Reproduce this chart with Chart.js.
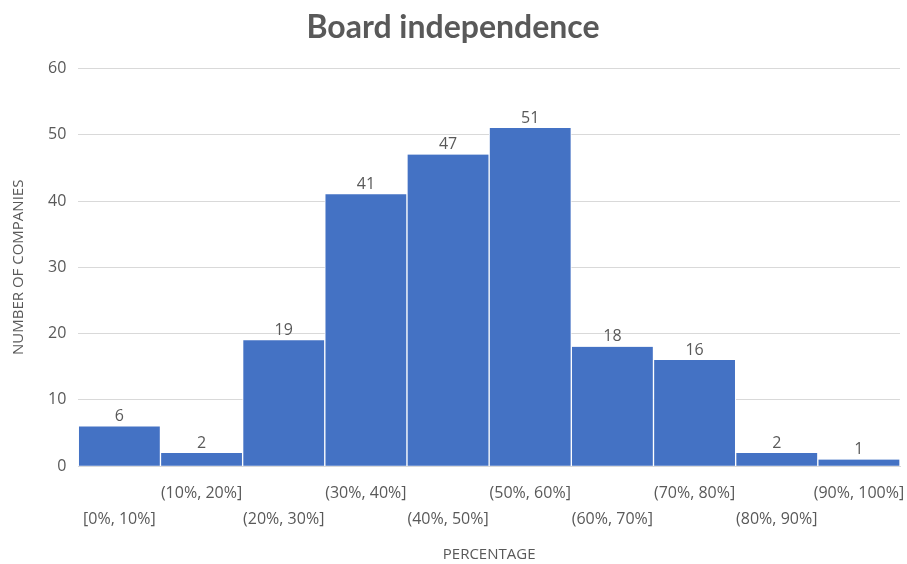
<!DOCTYPE html>
<html>
<head>
<meta charset="utf-8">
<script src="https://cdn.jsdelivr.net/npm/chart.js@4"></script>
<style>
  html, body { margin: 0; padding: 0; background: #fff; }
  #wrap { width: 907px; height: 564px; }
</style>
</head>
<body>
<div id="wrap"><canvas id="canvas"></canvas></div>
<script>
const bins = ["[0%, 10%]", "(10%, 20%]", "(20%, 30%]", "(30%, 40%]", "(40%, 50%]",
  "(50%, 60%]", "(60%, 70%]", "(70%, 80%]", "(80%, 90%]", "(90%, 100%]"]
const companies = [6, 2, 19, 41, 47, 51, 18, 16, 2, 1]
const yTicks = [0, 10, 20, 30, 40, 50, 60]

const grey = "#595959"
const font = "'Open Sans', 'Noto Sans', sans-serif"

// draws the count above each bar
const barValues = {
  id: "barValues",
  afterDatasetsDraw(chart) {
    const ctx = chart.ctx
    const meta = chart.getDatasetMeta(0)
    ctx.save()
    ctx.fillStyle = grey
    ctx.font = "16px " + font
    ctx.textAlign = "center"
    ctx.textBaseline = "bottom"
    meta.data.forEach((bar, i) => {
      ctx.fillText(companies[i], bar.x, bar.y - 2)
    })
    ctx.restore()
  }
}

new Chart(document.getElementById("canvas"), {
  type: "bar",
  data: {
    labels: bins,
    datasets: [{
      data: companies,
      backgroundColor: "#4472C4",
      borderColor: "#ffffff",
      borderWidth: { left: 1, right: 1, top: 0, bottom: 0 },
      borderSkipped: false,
      barPercentage: 1,
      categoryPercentage: 1
    }]
  },
  options: {
    responsive: true,
    maintainAspectRatio: false,
    animation: false,
    layout: { padding: { left: 6, right: 7, top: 6, bottom: 0 } },
    plugins: {
      legend: { display: false },
      tooltip: { enabled: false },
      title: {
        display: true,
        text: "Board independence",
        color: grey,
        font: { family: "Lato, sans-serif", size: 32, weight: "bold" },
        padding: { top: 2, bottom: 22 }
      }
    },
    scales: {
      x: {
        grid: { display: false },
        border: { color: "#d9d9d9" },
        // let the last label run into the right margin
        afterFit: scale => { scale.paddingRight = 0 },
        ticks: {
          color: grey,
          font: { family: font, size: 16, lineHeight: 1.65 },
          maxRotation: 0,
          autoSkip: false,
          padding: 6,
          callback: (v, i) => i % 2 === 0 ? ["", bins[i]] : [bins[i], ""]
        },
        title: {
          display: true,
          text: "PERCENTAGE",
          color: grey,
          font: { family: font, size: 15 },
          padding: { top: 7, bottom: 0 }
        }
      },
      y: {
        min: 0,
        max: 60,
        afterBuildTicks: axis => { axis.ticks = yTicks.map(v => ({ value: v })) },
        grid: { color: "#d9d9d9", drawTicks: false },
        border: { display: false },
        ticks: {
          color: grey,
          font: { family: font, size: 16 },
          padding: 12
        },
        title: {
          display: true,
          text: "NUMBER OF COMPANIES",
          color: grey,
          font: { family: font, size: 15 },
          padding: { bottom: 8 }
        }
      }
    }
  },
  plugins: [barValues]
})
</script>
</body>
</html>
